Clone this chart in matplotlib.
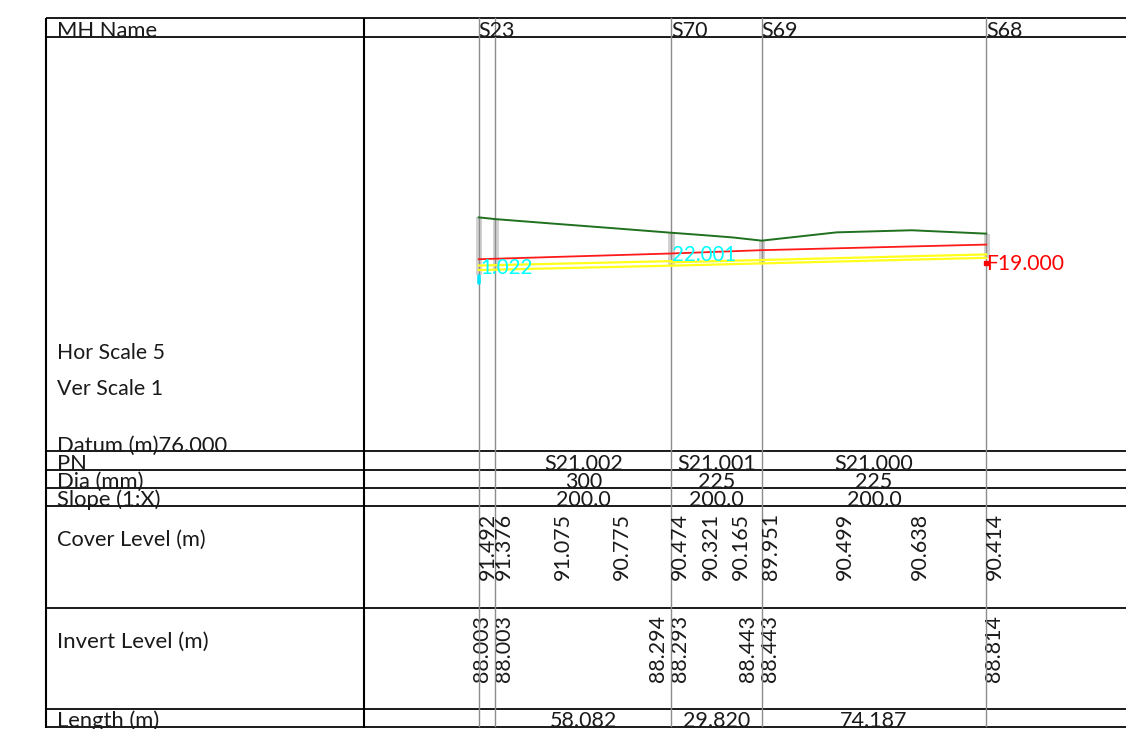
import matplotlib
matplotlib.use("Agg")
import matplotlib.pyplot as plt
from matplotlib.patches import Rectangle
from matplotlib.transforms import blended_transform_factory

# long section of a sewer run, 5:1 exaggeration, datum 76 m
plt.rcParams['font.family'] = ['Lato', 'DejaVu Sans']

mh_names = ["S23", "S70", "S69", "S68"]
mh_chain = [0.0, 63.6, 93.5, 167.7]
col_chain = [0.0, 5.55, 63.6, 93.5, 167.7]

# ground profile
cover_chain = [0.0, 5.55, 24.8, 44.4, 63.6, 73.9, 83.8, 93.5, 118.2, 143.0, 167.7]
cover_levels = [91.492, 91.376, 91.075, 90.775, 90.474, 90.321, 90.165, 89.951, 90.499, 90.638, 90.414]

# pipes
pipe_names = ["S21.002", "S21.001", "S21.000"]
pipe_dia = [300, 225, 225]
pipe_slope = ["200.0", "200.0", "200.0"]
pipe_length = ["58.082", "29.820", "74.187"]
pipe_start = [0.0, 63.6, 93.5]
pipe_end = [63.6, 93.5, 167.7]
label_chain = [34.6, 78.5, 130.6]
inv_up = [88.003, 88.293, 88.443]
inv_down = [88.294, 88.443, 88.814]

inv_labels = ["88.003", "88.003", "88.294", "88.293", "88.443", "88.443", "88.814"]
inv_text_x = [472, 494, 648, 670, 738, 760, 984]

# hydraulic line
hgl_chain = [0.0, 63.6, 93.5, 167.7]
hgl_levels = [88.72, 89.10, 89.32, 89.69]

# manhole shafts
shaft_tops = [91.492, 91.376, 90.474, 89.951, 90.414]
shaft_bots = [87.70, 88.003, 88.293, 88.443, 88.814]

datum = 76.0
px_per_m_x = 3.027
px_per_m_y = 15.1
x0_px = 478.7
datum_px = 451.3
W, H = 1126, 729
dark = "#1a1a1a"

fig = plt.figure(figsize=(W / 100, H / 100), dpi=100)

# table frame in pixels
tab = fig.add_axes([0, 0, 1, 1])
tab.set_xlim(0, W)
tab.set_ylim(H, 0)
tab.axis("off")

# profile in chainage / level
ax = fig.add_axes([0, 0, 1, 1], facecolor="none")
ax.set_xlim(-x0_px / px_per_m_x, (W - x0_px) / px_per_m_x)
ax.set_ylim(datum + (datum_px - H) / px_per_m_y, datum + datum_px / px_per_m_y)
ax.axis("off")

row_tr = blended_transform_factory(ax.transData, tab.transData)

row_lines = [18.3, 36.7, 451.3, 469.5, 487.7, 505.8, 607.5, 708.5, 726.8]
for y in row_lines:
    tab.plot([46, W], [y, y], color=dark, lw=1.4, solid_capstyle="butt")
for x in [46, 363.7]:
    tab.plot([x, x], [18, 727.5], color="black", lw=1.5, solid_capstyle="butt")

for c in col_chain:
    ax.plot([c, c], [18, 726], transform=row_tr, color="#8c8c8c", lw=1.0, zorder=2)

for c, t, b in zip(col_chain, shaft_tops, shaft_bots):
    ax.add_patch(Rectangle((c - 0.9, b), 2.0, t - b, color="#d2d2d2", lw=0, zorder=1))

ax.plot(cover_chain, cover_levels, color="#1f701f", lw=1.4, zorder=3)
ax.plot(hgl_chain, hgl_levels, color="#ff1a1a", lw=1.3, zorder=3)

for s, e, u, d, dia in zip(pipe_start, pipe_end, inv_up, inv_down, pipe_dia):
    ax.plot([s, e], [u, d], color="#ffff1a", lw=1.6, zorder=3)
    ax.plot([s, e], [u + dia / 1000, d + dia / 1000], color="#ffff1a", lw=1.6, zorder=3)

# storage below S23
ax.plot([0, 0], [87.6, 87.15], color="#00e5ff", lw=2.6, solid_capstyle="round", zorder=4)

ax.text(0.6, 88.11, "1.022", color="#00ffff", fontsize=14.8, va="center", ha="left", zorder=5)
ax.text(63.9, 88.98, "22.001", color="#00ffff", fontsize=14.8, va="center", ha="left", zorder=5)
ax.text(167.6, 88.41, "F19.000", color="#ff0000", fontsize=15.2, va="center", ha="left", zorder=5)
ax.plot([167.7], [88.47], marker="s", ms=2.5, color="#ff0000", zorder=5)

# left hand labels
left = [("Hor Scale 5", 353, 15.3), ("Ver Scale 1", 389, 15.4), ("Cover Level (m)", 540, 15.7),
        ("Invert Level (m)", 642, 16.0)]
for s, y, fs in left:
    tab.text(57, y, s, fontsize=fs, va="center", ha="left", color=dark)
base_labels = [("MH Name", 36.7), ("Datum (m)76.000", 452), ("PN", 469.5), ("Dia (mm)", 487.7),
               ("Slope (1:X)", 505.8), ("Length (m)", 727)]
for s, y in base_labels:
    tab.text(57, y, s, fontsize=15.8, va="baseline", ha="left", color=dark)

for n, c in zip(mh_names, mh_chain):
    ax.text(c, 36.7, n, transform=row_tr, fontsize=15.5, va="baseline", ha="left", color=dark)

for i in range(3):
    mid = label_chain[i]
    ax.text(mid, 469.5, pipe_names[i], transform=row_tr, fontsize=15.5, va="baseline", ha="center", color=dark)
    ax.text(mid, 487.7, str(pipe_dia[i]), transform=row_tr, fontsize=15.5, va="baseline", ha="center", color=dark)
    ax.text(mid, 505.8, pipe_slope[i], transform=row_tr, fontsize=15.5, va="baseline", ha="center", color=dark)
    ax.text(mid, 727, pipe_length[i], transform=row_tr, fontsize=15.5, va="baseline", ha="center", color=dark)

for c, v in zip(cover_chain, cover_levels):
    ax.text(c - 0.4, 580, f"{v:.3f}", transform=row_tr, rotation=90, fontsize=15.4,
            va="top", ha="left", color=dark, rotation_mode="anchor")

for x, s in zip(inv_text_x, inv_labels):
    tab.text(x, 682, s, rotation=90, fontsize=15.4, va="top", ha="left", color=dark,
             rotation_mode="anchor")

fig.savefig("out.png", dpi=100)
